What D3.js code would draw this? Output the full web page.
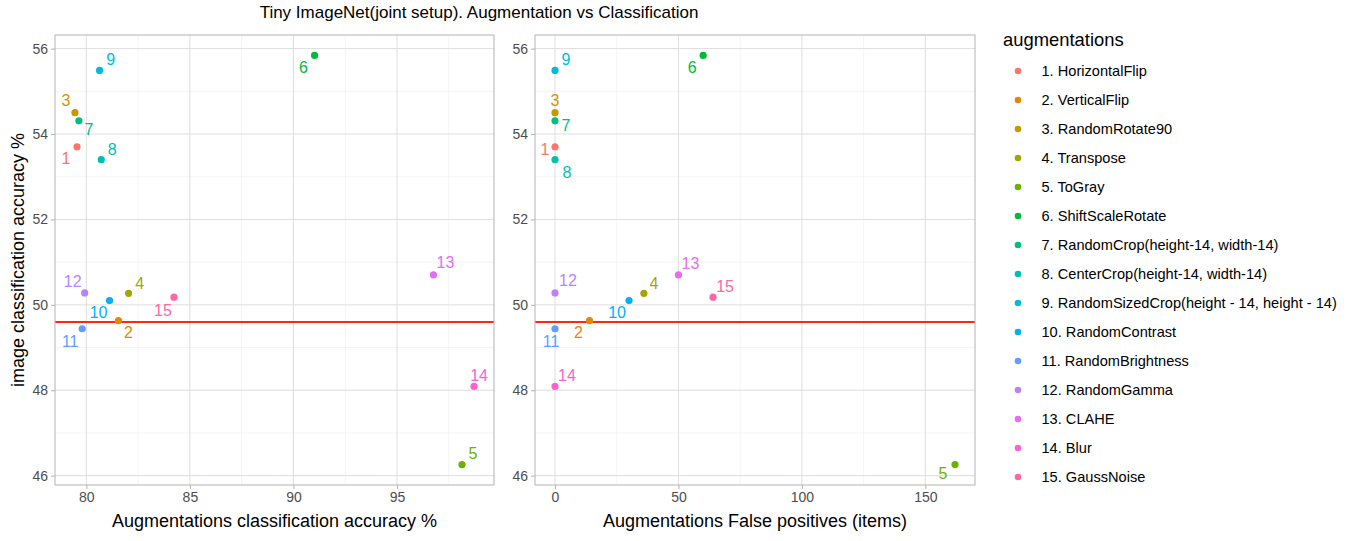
<!DOCTYPE html>
<html>
<head>
<meta charset="utf-8">
<script src="https://cdn.jsdelivr.net/npm/d3@7"></script>
<style>
  body { margin: 0; background: #fff; }
  svg { font-family: "Liberation Sans", Arial, sans-serif; }
  .axis path { display: none; }
  .axis line { stroke: #B3B3B3; }
  .axis text { fill: #4D4D4D; font-size: 14px; }
</style>
</head>
<body>
<div id="chart"></div>
<script>
// data
const augNames = ['HorizontalFlip', 'VerticalFlip', 'RandomRotate90', 'Transpose', 'ToGray',
  'ShiftScaleRotate', 'RandomCrop(height-14, width-14)', 'CenterCrop(height-14, width-14)',
  'RandomSizedCrop(height - 14, height - 14)', 'RandomContrast', 'RandomBrightness',
  'RandomGamma', 'CLAHE', 'Blur', 'GaussNoise'];
const imageAcc = [53.70, 49.63, 54.50, 50.27, 46.26, 55.84, 54.31, 53.40, 55.49, 50.10, 49.44, 50.28, 50.70, 48.09, 50.18];
const augAcc = [79.55, 81.55, 79.45, 82.04, 98.14, 91.02, 79.64, 80.72, 80.64, 81.12, 79.80, 79.92, 96.76, 98.72, 84.23];
const falsePos = [0, 14, 0, 36, 162, 60, 0, 0, 0, 30, 0, 0, 50, 0, 64];
const baseline = 49.60;
const xTicksLeft = [80, 85, 90, 95];
const xTicksRight = [0, 50, 100, 150];
const yTicks = [46, 48, 50, 52, 54, 56];
const colors = ['#F8766D', '#E58700', '#C99800', '#A3A500', '#6BB100', '#00BA38', '#00BF7D',
  '#00C0AF', '#00BCD8', '#00B0F6', '#619CFF', '#B983FF', '#E76BF3', '#FD61D1', '#FF67A4'];

// label offsets (px, like repelled text)
const nudgeLeft = [[-11, 12], [10, 12], [-9, -12], [11, -10], [11, -11], [-11, 12], [10, 9], [11, -10],
  [11, -11], [-11, 12], [-12, 13], [-12, -11], [12, -12], [5, -11], [-11, 13]];
const nudgeRight = [[-10, 3], [-11, 12], [0, -12], [10, -10], [-12, 9], [-11, 12], [11, 5], [12, 13],
  [11, -11], [-12, 12], [-4, 13], [13, -12], [12, -11], [12, -11], [12, -11]];

const width = 1359, height = 541;
const plotTop = 35, plotBottom = 485;

const svg = d3.select('#chart').append('svg')
  .attr('width', width).attr('height', height);

// ggplot-style 5% expansion
function expand(vals) {
  const [lo, hi] = d3.extent(vals);
  const pad = (hi - lo) * 0.05;
  return [lo - pad, hi + pad];
}

const scaleY = d3.scaleLinear(expand(imageAcc), [plotBottom, plotTop]);

function panel(left, right, xVals, xTicks, nudge, xTitle) {
  const scaleX = d3.scaleLinear(expand(xVals), [left, right]);
  const g = svg.append('g');

  // minor grid
  const xMinor = xTicks.slice(0, -1).map((t, i) => (t + xTicks[i + 1]) / 2);
  const step = xTicks[1] - xTicks[0];
  xMinor.push(xTicks[xTicks.length - 1] + step / 2);
  const yMinor = yTicks.slice(0, -1).map((t, i) => (t + yTicks[i + 1]) / 2);
  const [dx0, dx1] = scaleX.domain();
  const [dy0, dy1] = scaleY.domain();
  g.selectAll('line.xminor').data(xMinor.filter(v => v > dx0 && v < dx1)).join('line')
    .attr('x1', d => scaleX(d)).attr('x2', d => scaleX(d))
    .attr('y1', plotTop).attr('y2', plotBottom)
    .attr('stroke', '#EDEDED').attr('stroke-width', 0.6);
  g.selectAll('line.yminor').data(yMinor.filter(v => v > dy0 && v < dy1)).join('line')
    .attr('x1', left).attr('x2', right)
    .attr('y1', d => scaleY(d)).attr('y2', d => scaleY(d))
    .attr('stroke', '#EDEDED').attr('stroke-width', 0.6);

  // major grid
  g.selectAll('line.xmajor').data(xTicks).join('line')
    .attr('x1', d => scaleX(d)).attr('x2', d => scaleX(d))
    .attr('y1', plotTop).attr('y2', plotBottom)
    .attr('stroke', '#DEDEDE').attr('stroke-width', 1);
  g.selectAll('line.ymajor').data(yTicks).join('line')
    .attr('x1', left).attr('x2', right)
    .attr('y1', d => scaleY(d)).attr('y2', d => scaleY(d))
    .attr('stroke', '#DEDEDE').attr('stroke-width', 1);

  // baseline
  g.append('line')
    .attr('x1', left).attr('x2', right)
    .attr('y1', scaleY(baseline)).attr('y2', scaleY(baseline))
    .attr('stroke', '#FF2A00').attr('stroke-width', 2);

  // points
  const pts = d3.range(imageAcc.length);
  g.selectAll('circle').data(pts).join('circle')
    .attr('cx', i => scaleX(xVals[i]))
    .attr('cy', i => scaleY(imageAcc[i]))
    .attr('r', 3.6)
    .attr('fill', i => colors[i]);

  g.selectAll('text.lab').data(pts).join('text')
    .attr('class', 'lab')
    .attr('x', i => scaleX(xVals[i]) + nudge[i][0])
    .attr('y', i => scaleY(imageAcc[i]) + nudge[i][1])
    .attr('text-anchor', 'middle')
    .attr('dominant-baseline', 'central')
    .style('font-size', '16px')
    .attr('fill', i => colors[i])
    .text(i => i + 1);

  // border
  g.append('rect')
    .attr('x', left).attr('y', plotTop)
    .attr('width', right - left).attr('height', plotBottom - plotTop)
    .attr('fill', 'none').attr('stroke', '#B3B3B3').attr('stroke-width', 1);

  // axes
  svg.append('g').attr('class', 'axis')
    .attr('transform', `translate(0, ${plotBottom})`)
    .call(d3.axisBottom(scaleX).tickValues(xTicks).tickSize(4).tickPadding(3));
  svg.append('g').attr('class', 'axis')
    .attr('transform', `translate(${left}, 0)`)
    .call(d3.axisLeft(scaleY).tickValues(yTicks).tickSize(4).tickPadding(3));

  svg.append('text')
    .attr('x', (left + right) / 2).attr('y', 527)
    .attr('text-anchor', 'middle')
    .style('font-size', '18px')
    .text(xTitle);
}

panel(55, 494, augAcc, xTicksLeft, nudgeLeft, 'Augmentations classification accuracy %');
panel(535, 975, falsePos, xTicksRight, nudgeRight, 'Augmentations False positives (items)');

// y title
svg.append('text')
  .attr('transform', `translate(24, ${(plotTop + plotBottom) / 2}) rotate(-90)`)
  .attr('text-anchor', 'middle')
  .style('font-size', '18px')
  .text('image classification accuracy %');

// title
svg.append('text')
  .attr('x', 479).attr('y', 18)
  .attr('text-anchor', 'middle')
  .style('font-size', '17px')
  .text('Tiny ImageNet(joint setup). Augmentation vs Classification');

// legend
const legend = svg.append('g').attr('transform', 'translate(1003, 0)');
legend.append('text')
  .attr('x', 0).attr('y', 46)
  .style('font-size', '18.4px')
  .text('augmentations');
const items = legend.selectAll('g.item').data(augNames).join('g')
  .attr('transform', (d, i) => `translate(0, ${71 + i * 29})`);
items.append('circle')
  .attr('cx', 15).attr('cy', 0).attr('r', 3.3)
  .attr('fill', (d, i) => colors[i]);
items.append('text')
  .attr('x', 38.5).attr('y', 0)
  .attr('dominant-baseline', 'central')
  .style('font-size', '14.6px')
  .text((d, i) => `${i + 1}. ${d}`);
</script>
</body>
</html>
